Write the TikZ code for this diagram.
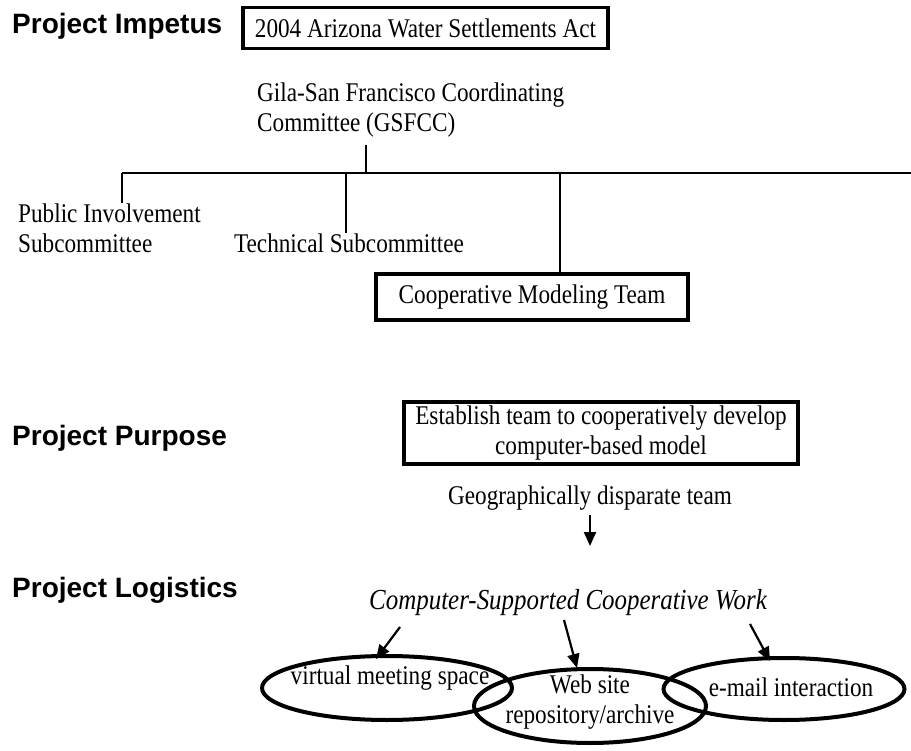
\documentclass[tikz,border=0pt]{standalone}
\usepackage{fontspec}
\setmainfont{Liberation Serif}[FakeStretch=0.86]
\newfontfamily\headfont{Liberation Sans}
\usetikzlibrary{arrows.meta,shapes.geometric}
\begin{document}
\begin{tikzpicture}[x=1pt,y=-1pt,
  head/.style={anchor=west,font=\headfont\bfseries\fontsize{28}{30}\selectfont,inner sep=0pt},
  txt/.style={font=\fontsize{27}{30}\selectfont,inner sep=0pt},
  boxed/.style={txt,draw,line width=3.5pt,inner sep=0pt},
  conn/.style={line width=2.2pt},
  arr/.style={line width=2.2pt,-{Triangle[length=14pt,width=12pt]}},
  oval/.style={draw,ellipse,line width=4pt,inner sep=0pt}
]
\useasboundingbox (0,0) rectangle (911,751);
% headings
\node[head] (h1) at (12,26) {Project Impetus};
\node[head] (h2) at (12,438) {Project Purpose};
\node[head] (h3) at (12,590) {Project Logistics};
% impetus
\node[boxed,minimum width=365pt,minimum height=41pt] (act) at (425.5,28) {2004 Arizona Water Settlements Act};
\node[txt,align=left,anchor=west] (gs) at (257,110) {Gila-San Francisco Coordinating\\Committee (GSFCC)};
\coordinate (g1) at (366,145);
\coordinate (hl) at (122,173);
\coordinate (hr) at (911,173);
\draw[conn] (g1) -- (g1 |- hl);
\draw[conn] (hl) -- (hr);
\node[txt,align=left,anchor=west] (pi) at (18,228) {Public Involvement\\Subcommittee};
\node[txt] (ts) at (349,243) {Technical Subcommittee};
\node[boxed,minimum width=312pt,minimum height=46pt] (cmt) at (532,297) {Cooperative Modeling Team};
\coordinate (b1) at (122,173);
\coordinate (b2) at (346,173);
\coordinate (b3) at (560,173);
\draw[conn] (b1) -- (b1 |- pi.north);
\draw[conn] (b2) -- (b2 |- ts.north);
\draw[conn] (b3) -- (b3 |- cmt.north);
% purpose
\node[boxed,align=center,minimum width=394pt,minimum height=62pt] (pur) at (601,433) {Establish team to cooperatively develop\\computer-based model};
% logistics
\node[txt] (geo) at (590,498) {Geographically disparate team};
\node[txt,font=\itshape\fontsize{29}{31}\selectfont] (cscw) at (568,603) {Computer-Supported Cooperative Work};
\coordinate (ga) at (590,515);
\coordinate (gb) at (590,546);
\draw[arr] (ga) -- (gb);
\node[oval,minimum width=250pt,minimum height=64pt] (e1) at (387,688) {};
\node[oval,minimum width=232pt,minimum height=74pt] (e2) at (590,706) {};
\node[oval,minimum width=241pt,minimum height=62pt] (e3) at (784,689) {};
\node[txt] (t1) at (390,678) {virtual meeting space};
\node[txt,align=center] (t2) at (590,702) {Web site\\repository/archive};
\node[txt] (t3) at (791,687) {e-mail interaction};
\coordinate (a1) at (400,627);
\coordinate (a1e) at (376,659);
\coordinate (a2) at (564,620);
\coordinate (a2e) at (577,668);
\coordinate (a3) at (750,624);
\coordinate (a3e) at (770,661);
\draw[arr] (a1) -- (a1e);
\draw[arr] (a2) -- (a2e);
\draw[arr] (a3) -- (a3e);
\end{tikzpicture}
\end{document}
